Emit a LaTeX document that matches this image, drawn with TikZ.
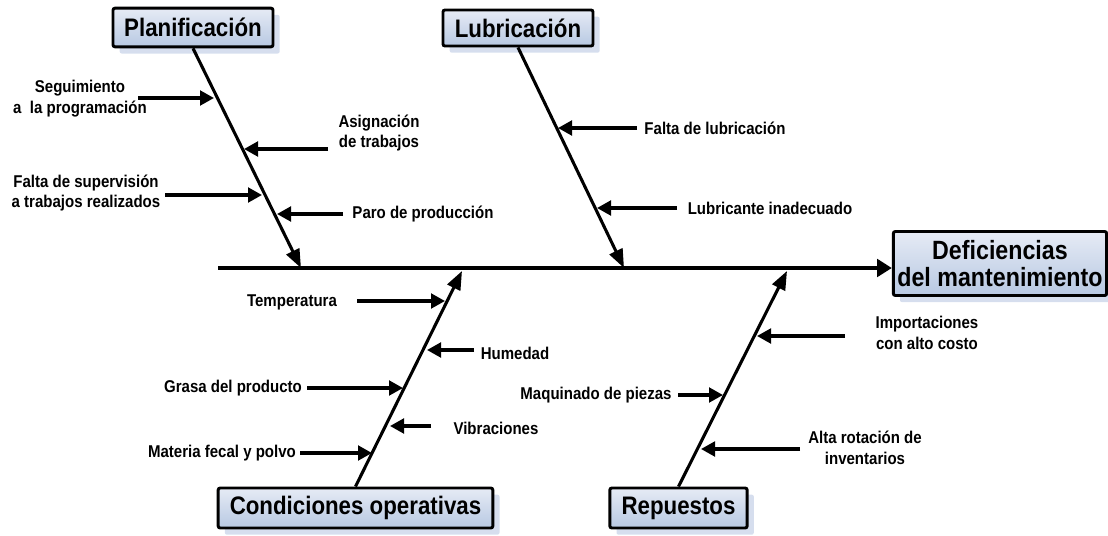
\documentclass[tikz,border=0pt]{standalone}
\usepackage{fontspec}
\setmainfont{Liberation Sans}
\newfontfamily\narrowf{Liberation Sans}[FakeStretch=0.88]
\usetikzlibrary{arrows.meta,shadows,calc}
\definecolor{boxtop}{HTML}{E6EBF5}
\definecolor{boxbot}{HTML}{B7C8E2}
\definecolor{shadowc}{HTML}{D6DEEE}
\begin{document}
\begin{tikzpicture}[x=0.75pt,y=-0.75pt,
  catbox/.style={draw=black, line width=2.2pt, rounded corners=1.5pt, top color=boxtop, bottom color=boxbot,
    font=\narrowf\fontsize{19}{22}\selectfont\bfseries, inner sep=0pt, align=center,
    drop shadow={shadow xshift=5pt, shadow yshift=-5pt, fill=shadowc, opacity=1}},
  lbl/.style={font=\narrowf\fontsize{12.8}{15.5}\selectfont\bfseries, align=center, inner sep=0pt},
  bone/.style={line width=2.3pt, -{Triangle[length=14pt,width=10.5pt]}},
  sub/.style={line width=2.3pt, -{Triangle[length=10.5pt,width=11pt]}},
  spine/.style={line width=2.8pt, -{Triangle[length=11pt,width=13pt]}}]
\useasboundingbox (0,0) rectangle (1108,536);

% category boxes
\node[catbox, minimum width=120pt, minimum height=29pt] (plan) at (193,27.5) {Planificación};
\node[catbox, minimum width=112.5pt, minimum height=27pt] (lub) at (518,28) {Lubricación};
\node[catbox, minimum width=206pt, minimum height=30pt] (cond) at (355.5,508) {Condiciones operativas};
\node[catbox, minimum width=103pt, minimum height=30pt] (rep) at (678.5,508) {Repuestos};
\node[catbox, minimum width=160pt, minimum height=48pt, font=\narrowf\fontsize{19.8}{20.5}\selectfont\bfseries] (def) at (1000,263.5) {Deficiencias\\del mantenimiento};

% spine
\coordinate (spS) at (218,268);
\draw[spine] (spS) -- (spS -| def.west);

% bone ends
\coordinate (pE) at (301,268);
\coordinate (lE) at (624,268);
\coordinate (cE) at (462,271);
\coordinate (rE) at (787,271);
\draw[bone] (plan.south) -- (pE);
\draw[bone] (lub.south) -- (lE);
\draw[bone] (cond.north) -- (cE);
\draw[bone] (rep.north) -- (rE);

% labels
\node[lbl] (seg) at (80,98.5) {Seguimiento\\a\ \ la programación};
\node[lbl] (asig) at (379,133) {Asignación\\de trabajos};
\node[lbl] (sup) at (86,193) {Falta de supervisión\\a trabajos realizados};
\node[lbl] (paro) at (423,214) {Paro de producción};
\node[lbl] (flub) at (715,128) {Falta de lubricación};
\node[lbl] (linad) at (770,208) {Lubricante inadecuado};
\node[lbl] (temp) at (292,302) {Temperatura};
\node[lbl] (hum) at (515,353) {Humedad};
\node[lbl] (grasa) at (233,388) {Grasa del producto};
\node[lbl] (vib) at (496,428) {Vibraciones};
\node[lbl] (mat) at (222,453) {Materia fecal y polvo};
\node[lbl] (imp) at (927,333) {Importaciones\\con alto costo};
\node[lbl] (maq) at (596,395) {Maquinado de piezas};
\node[lbl] (alta) at (865,448) {Alta rotación de\\inventarios};

% sub-cause arrows
\coordinate (segA) at (138,98);  \coordinate (segB) at (214,98);
\coordinate (asigA) at (328,149); \coordinate (asigB) at (244,149);
\coordinate (supA) at (165,195); \coordinate (supB) at (262,195);
\coordinate (paroA) at (343,214); \coordinate (paroB) at (277,214);
\coordinate (flubA) at (637,128); \coordinate (flubB) at (558,128);
\coordinate (linadA) at (677,208); \coordinate (linadB) at (597,208);
\coordinate (tempA) at (357,301); \coordinate (tempB) at (445,301);
\coordinate (humA) at (474,350); \coordinate (humB) at (427,350);
\coordinate (grasaA) at (307,388); \coordinate (grasaB) at (403,388);
\coordinate (vibA) at (431,426); \coordinate (vibB) at (390,426);
\coordinate (matA) at (300,453); \coordinate (matB) at (372,453);
\coordinate (impA) at (845,336); \coordinate (impB) at (757,336);
\coordinate (maqA) at (678,395); \coordinate (maqB) at (723,395);
\coordinate (altaA) at (800,449); \coordinate (altaB) at (701,449);
\foreach \n in {seg,asig,sup,paro,flub,linad,temp,hum,grasa,vib,mat,imp,maq,alta}
  \draw[sub] (\n A) -- (\n B);
\end{tikzpicture}
\end{document}
